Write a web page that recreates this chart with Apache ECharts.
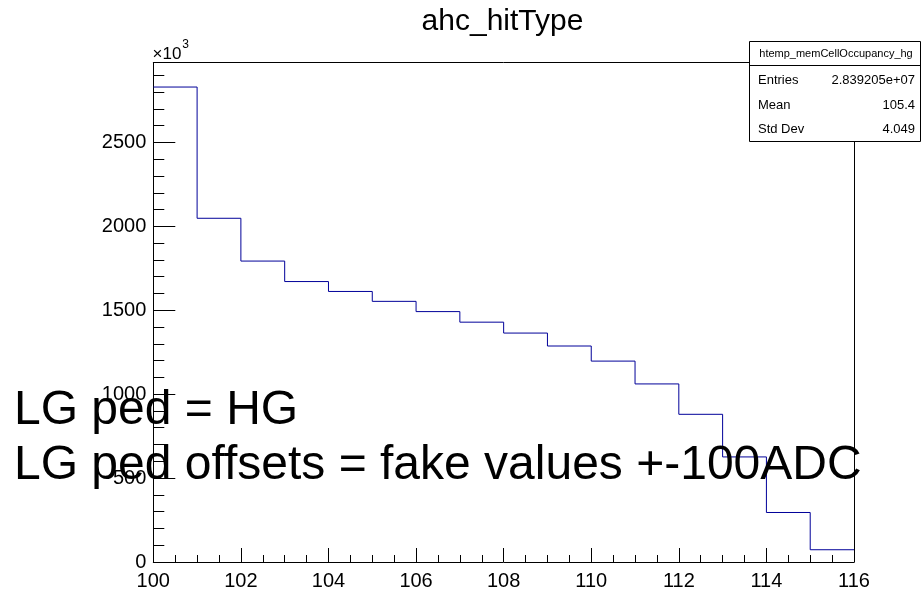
<!DOCTYPE html>
<html>
<head>
<meta charset="utf-8">
<script src="https://cdn.jsdelivr.net/npm/echarts@6/dist/echarts.min.js"></script>
<style>
html,body{margin:0;padding:0;background:#fff;}
#c{width:922px;height:591px;}
</style>
</head>
<body>
<div id="c"></div>
<script>
// Bin edges (hit type / memory cell)
var binEdges = [100,101,102,103,104,105,106,107,108,109,110,111,112,113,114,115,116];
// Counts per bin, in units of 10^3
var counts = [2830, 2048, 1793, 1671, 1612, 1553, 1492, 1429, 1364, 1287, 1197, 1061, 880, 626, 295, 73];
var xTickLabels = ['100','102','104','106','108','110','112','114','116'];
var yTickLabels = ['0','500','1000','1500','2000','2500'];
var statsTitle = 'htemp_memCellOccupancy_hg';
var statsNames = ['Entries','Mean','Std Dev'];
var statsValues = ['2.839205e+07','105.4','4.049'];
var titleText = 'ahc_hitType';
var noteLines = ['LG ped = HG', 'LG ped offsets = fake values +-100ADC'];

var xMin = binEdges[0], xMax = binEdges[binEdges.length-1];
var yMax = 2975;

var stepData = counts.map(function(v,i){ return [binEdges[i], v]; });
stepData.push([binEdges[binEdges.length-1], counts[counts.length-1]]);

var FONT = '"Liberation Sans", Arial, Helvetica, sans-serif';
var chart = echarts.init(document.getElementById('c'), null, {renderer:'canvas'});

var gridL = 153.3, gridR = 854, gridT = 62.7, gridB = 566.7;

var option = {
  animation: false,
  backgroundColor: '#ffffff',
  grid: {left: gridL, right: 922 - gridR, top: gridT, bottom: 591 - gridB, containLabel: false},
  xAxis: [
    {
      type: 'value', min: xMin, max: xMax, interval: 2,
      axisLine: {show: true, onZero: false, lineStyle: {color: '#000', width: 1}},
      axisTick: {show: true, inside: true, length: 14, lineStyle: {color: '#000', width: 1}},
      axisLabel: {
        show: true, margin: 9, color: '#000', fontSize: 20, fontFamily: FONT,
        formatter: function(v){ var i = xTickLabels.indexOf(String(v)); return i >= 0 ? xTickLabels[i] : ''; }
      },
      splitLine: {show: false}
    },
    {
      type: 'value', min: xMin, max: xMax, interval: 0.5, position: 'bottom',
      axisLine: {show: false, onZero: false},
      axisTick: {show: true, inside: true, length: 7, lineStyle: {color: '#000', width: 1}},
      axisLabel: {show: false},
      splitLine: {show: false}
    },
    {
      type: 'value', min: xMin, max: xMax, position: 'top',
      axisLine: {show: true, onZero: false, lineStyle: {color: '#000', width: 1}},
      axisTick: {show: false}, axisLabel: {show: false}, splitLine: {show: false}
    }
  ],
  yAxis: [
    {
      type: 'value', min: 0, max: yMax, interval: 500,
      axisLine: {show: true, onZero: false, lineStyle: {color: '#000', width: 1}},
      axisTick: {show: true, inside: true, length: 22, lineStyle: {color: '#000', width: 1}},
      axisLabel: {
        show: true, margin: 7, color: '#000', fontSize: 20, fontFamily: FONT, showMaxLabel: false,
        formatter: function(v){ var i = yTickLabels.indexOf(String(v)); return i >= 0 ? yTickLabels[i] : ''; }
      },
      splitLine: {show: false}
    },
    {
      type: 'value', min: 0, max: yMax, interval: 100, position: 'left',
      axisLine: {show: false, onZero: false},
      axisTick: {show: true, inside: true, length: 11, lineStyle: {color: '#000', width: 1}},
      axisLabel: {show: false},
      splitLine: {show: false}
    },
    {
      type: 'value', min: 0, max: yMax, position: 'right',
      axisLine: {show: true, onZero: false, lineStyle: {color: '#000', width: 1}},
      axisTick: {show: false}, axisLabel: {show: false}, splitLine: {show: false}
    }
  ],
  series: [
    {
      type: 'line', step: 'end', data: stepData, xAxisIndex: 0, yAxisIndex: 0,
      symbol: 'none', lineStyle: {color: '#000099', width: 1}, z: 3
    }
  ],
  graphic: [
    {
      type: 'text', x: 502.5, y: 22, z: 10,
      style: {text: titleText, fill: '#000', font: '30px ' + FONT, align: 'center', verticalAlign: 'middle'}
    },
    {
      type: 'text', x: 152.5, y: 39, z: 10,
      style: {
        text: '{a|×10}{b|3}',
        rich: {
          a: {fontSize: 17, fontFamily: FONT, fill: '#000', verticalAlign: 'bottom', lineHeight: 24},
          b: {fontSize: 12, fontFamily: FONT, fill: '#000', verticalAlign: 'top', lineHeight: 24, padding: [0,0,10,1]}
        }
      }
    },
    // stats box
    {
      type: 'rect', z: 20,
      shape: {x: 749.5, y: 41.5, width: 171, height: 100},
      style: {fill: '#fff', stroke: '#000', lineWidth: 1}
    },
    {
      type: 'line', z: 21,
      shape: {x1: 749.5, y1: 65.5, x2: 920.5, y2: 65.5},
      style: {stroke: '#000', lineWidth: 1}
    },
    {
      type: 'text', z: 22, x: 836, y: 53.5,
      style: {text: statsTitle, fill: '#000', font: '11px ' + FONT, align: 'center', verticalAlign: 'middle'}
    },
    {
      type: 'text', z: 22, x: 758, y: 80,
      style: {text: statsNames[0], fill: '#000', font: '13px ' + FONT, align: 'left', verticalAlign: 'middle'}
    },
    {
      type: 'text', z: 22, x: 758, y: 105,
      style: {text: statsNames[1], fill: '#000', font: '13px ' + FONT, align: 'left', verticalAlign: 'middle'}
    },
    {
      type: 'text', z: 22, x: 758, y: 129,
      style: {text: statsNames[2], fill: '#000', font: '13px ' + FONT, align: 'left', verticalAlign: 'middle'}
    },
    {
      type: 'text', z: 22, x: 915, y: 80,
      style: {text: statsValues[0], fill: '#000', font: '13px ' + FONT, align: 'right', verticalAlign: 'middle'}
    },
    {
      type: 'text', z: 22, x: 915, y: 105,
      style: {text: statsValues[1], fill: '#000', font: '13px ' + FONT, align: 'right', verticalAlign: 'middle'}
    },
    {
      type: 'text', z: 22, x: 915, y: 129,
      style: {text: statsValues[2], fill: '#000', font: '13px ' + FONT, align: 'right', verticalAlign: 'middle'}
    },
    // overlay note
    {
      type: 'text', z: 30, x: 14, y: 411,
      style: {text: noteLines[0], fill: '#000', font: '48px ' + FONT, align: 'left', verticalAlign: 'middle'}
    },
    {
      type: 'text', z: 30, x: 14, y: 466,
      style: {text: noteLines[1], fill: '#000', font: '48px ' + FONT, align: 'left', verticalAlign: 'middle'}
    }
  ]
};
chart.setOption(option);
</script>
</body>
</html>
